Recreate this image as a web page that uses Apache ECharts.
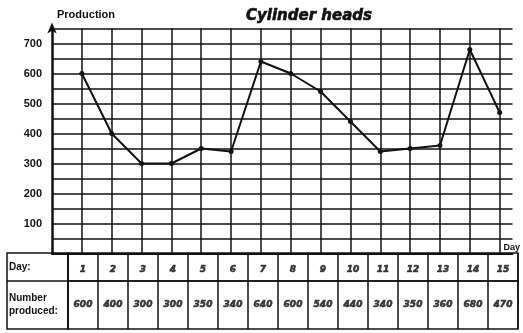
<!DOCTYPE html>
<html>
<head>
<meta charset="utf-8">
<script src="https://cdn.jsdelivr.net/npm/echarts@6/dist/echarts.min.js"></script>
<style>
  html, body { margin: 0; padding: 0; background: #fff; }
  #chart { width: 523px; height: 333px; }
</style>
</head>
<body>
<div id="chart"></div>
<script>
// Daily output of cylinder heads over fifteen days
const days = [1, 2, 3, 4, 5, 6, 7, 8, 9, 10, 11, 12, 13, 14, 15];
const produced = [600, 400, 300, 300, 350, 340, 640, 600, 540, 440, 340, 350, 360, 680, 470];
const yTickLabels = [100, 200, 300, 400, 500, 600, 700];
const rowLabels = ['Day:', 'Number\nproduced:'];

const INK = '#111';
const cellFont = {
  fontFamily: 'DejaVu Sans', fontStyle: 'italic', fontWeight: 'bold', fontSize: 9, color: INK,
  textBorderColor: INK, textBorderWidth: 0.6
};

const chart = echarts.init(document.getElementById('chart'), null, { renderer: 'canvas' });

const linePoints = days.map((d, i) => [d, produced[i]]);
const dayCells = days.map((d, i) => [i, 0, String(d)]);
const valueCells = days.map((d, i) => [i, 0, String(produced[i])]);

const tableCategoryAxis = (gridIndex) => ({
  type: 'category',
  gridIndex,
  data: days.map(String),
  boundaryGap: true,
  axisLine: { show: false },
  axisTick: { show: false },
  axisLabel: { show: false },
  splitLine: { show: true, interval: 0, lineStyle: { color: INK, width: 1.5 } }
});

const rowAxis = (gridIndex, label) => ({
  type: 'category',
  gridIndex,
  data: [label],
  axisLine: { show: false },
  axisTick: { show: false },
  splitLine: { show: false },
  axisLabel: {
    align: 'left',
    margin: 59,
    fontFamily: 'Liberation Sans',
    fontWeight: 'bold',
    fontSize: 10,
    lineHeight: 13,
    color: INK
  }
});

const cellSeries = (idx, data, dy) => ({
  type: 'scatter',
  xAxisIndex: idx,
  yAxisIndex: idx,
  data,
  symbolSize: 1,
  silent: true,
  itemStyle: { color: 'rgba(0,0,0,0)' },
  label: {
    show: true,
    position: 'inside',
    offset: [0, dy],
    formatter: (p) => p.value[2],
    ...cellFont
  }
});

chart.setOption({
  animation: false,
  backgroundColor: '#fff',
  title: {
    text: 'Cylinder heads',
    left: 241,
    top: 4,
    textStyle: {
      fontFamily: 'DejaVu Sans', fontStyle: 'italic', fontWeight: 'bold', fontSize: 15, color: INK,
      textBorderColor: INK, textBorderWidth: 0.6
    }
  },
  grid: [
    { left: 52, right: 8, top: 28.5, bottom: 79.5, containLabel: false },
    { left: 68, right: 5, top: 253, height: 28, show: true, borderColor: INK, borderWidth: 1.5, backgroundColor: 'transparent' },
    { left: 68, right: 5, top: 281, height: 48, show: true, borderColor: INK, borderWidth: 1.5, backgroundColor: 'transparent' }
  ],
  xAxis: [
    {
      type: 'value',
      gridIndex: 0,
      min: 0,
      max: 15.43,
      interval: 1,
      name: 'Day',
      nameLocation: 'end',
      nameGap: -9,
      nameTextStyle: { align: 'left', verticalAlign: 'bottom', fontFamily: 'Liberation Sans', fontWeight: 'bold', fontSize: 9, color: INK, padding: [0, 0, 1, 0] },
      axisLine: { show: true, lineStyle: { color: INK, width: 2 } },
      axisTick: { show: false },
      axisLabel: { show: false },
      splitLine: { show: true, showMinLine: false, showMaxLine: false, lineStyle: { color: INK, width: 1.5 } }
    },
    tableCategoryAxis(1),
    tableCategoryAxis(2)
  ],
  yAxis: [
    {
      type: 'value',
      gridIndex: 0,
      min: 0,
      max: 750,
      interval: 50,
      name: 'Production',
      nameLocation: 'end',
      nameGap: 14,
      nameTextStyle: { align: 'left', verticalAlign: 'middle', fontFamily: 'Liberation Sans', fontWeight: 'bold', fontSize: 11, color: INK, padding: [0, 0, 0, 5] },
      axisLine: {
        show: true,
        symbol: ['none', 'arrow'],
        symbolSize: [7, 11],
        symbolOffset: [0, 6],
        lineStyle: { color: INK, width: 2.5 }
      },
      axisTick: { show: false },
      axisLabel: {
        margin: 10,
        fontFamily: 'Liberation Sans',
        fontWeight: 'bold',
        fontSize: 11,
        color: INK,
        formatter: (v) => (yTickLabels.includes(v) ? String(v) : '')
      },
      splitLine: { show: true, showMinLine: false, showMaxLine: true, lineStyle: { color: INK, width: 1.5 } }
    },
    rowAxis(1, rowLabels[0]),
    rowAxis(2, rowLabels[1])
  ],
  graphic: [
    // frame of the row-label column
    {
      type: 'rect',
      shape: { x: 7, y: 253, width: 61, height: 76 },
      style: { fill: 'none', stroke: INK, lineWidth: 1.5 },
      silent: true
    },
    {
      type: 'line',
      shape: { x1: 7, y1: 281, x2: 68, y2: 281 },
      style: { stroke: INK, lineWidth: 1.5 },
      silent: true
    }
  ],
  series: [
    {
      type: 'line',
      xAxisIndex: 0,
      yAxisIndex: 0,
      data: linePoints,
      symbol: 'circle',
      symbolSize: 5,
      itemStyle: { color: INK },
      lineStyle: { color: INK, width: 2 },
      z: 5
    },
    cellSeries(1, dayCells, 3),
    cellSeries(2, valueCells, 0)
  ]
});
</script>
</body>
</html>
